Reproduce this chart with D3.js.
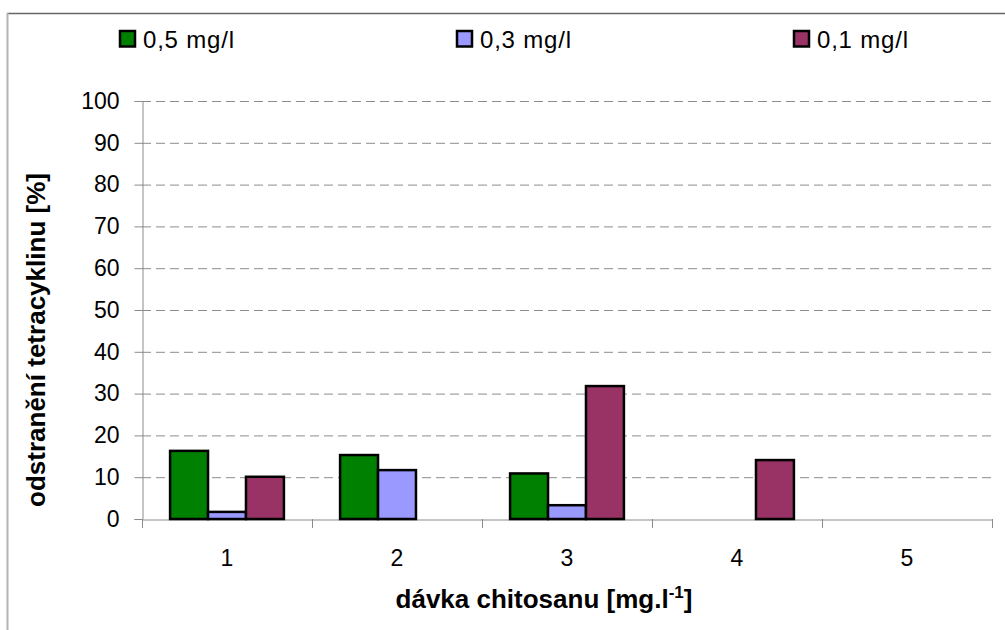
<!DOCTYPE html>
<html><head><meta charset="utf-8">
<script src="https://cdn.jsdelivr.net/npm/d3@7"></script>
<style>body{margin:0;background:#fff}svg{display:block}</style>
</head><body>
<svg id="c" width="1005" height="630"></svg>
<script>
const categories = ["1","2","3","4","5"];
const seriesNames = ["0,5 mg/l","0,3 mg/l","0,1 mg/l"];
const seriesColors = ["#008000","#9999ff","#993366"];
const s05 = [16.3, 15.3, 10.9, null, null];
const s03 = [1.7, 11.7, 3.3, null, null];
const s01 = [10.1, null, 31.8, 14.1, null];
const yTicks = [0,10,20,30,40,50,60,70,80,90,100];
const series = [s05, s03, s01];

const svg = d3.select("#c");
const font = "Liberation Sans, Arial, sans-serif";
const L = 142, R = 992, T = 101, B = 519;

// outer frame
svg.append("line").attr("x1",7).attr("x2",1005).attr("y1",13.5).attr("y2",13.5)
  .attr("stroke","#666").attr("stroke-width",1.5);
svg.append("line").attr("x1",7.5).attr("x2",7.5).attr("y1",13).attr("y2",630)
  .attr("stroke","#b4b4b4").attr("stroke-width",2);

const x = d3.scaleBand().domain(categories).range([L,R]);
const xs = d3.scaleBand().domain(d3.range(3)).range([0,x.bandwidth()]).paddingInner(0).paddingOuter(0.74);
const y = d3.scaleLinear().domain([0,100]).range([B,T]);

// gridlines
svg.append("g").selectAll("line").data(yTicks.filter(d=>d>0)).join("line")
  .attr("x1",L).attr("x2",R).attr("y1",d=>y(d)+0.5).attr("y2",d=>y(d)+0.5)
  .attr("stroke","#8c8c8c").attr("stroke-dasharray","9,5");

// y axis
const ya = svg.append("g").attr("transform",`translate(${L+0.5},0)`)
  .call(d3.axisLeft(y).tickValues(yTicks).tickSize(8).tickPadding(15));
ya.select(".domain").attr("stroke","#8c8c8c");
ya.selectAll(".tick line").attr("stroke","#8c8c8c");
ya.selectAll(".tick text").attr("font-family",font).attr("font-size",23).attr("fill","#000");

// x axis
const xa = svg.append("g").attr("transform",`translate(0,${B+0.5})`)
  .call(d3.axisBottom(x).tickSize(0).tickPadding(30));
xa.select(".domain").attr("stroke","#8c8c8c");
xa.selectAll(".tick text").attr("font-family",font).attr("font-size",23).attr("fill","#000");
svg.append("g").selectAll("line").data(categories.concat(["end"])).join("line")
  .attr("x1",(d,i)=> (i<categories.length? x(d) : R)+0.5)
  .attr("x2",(d,i)=> (i<categories.length? x(d) : R)+0.5)
  .attr("y1",B).attr("y2",B+9).attr("stroke","#8c8c8c");

// bars
series.forEach((s,si)=>{
  svg.append("g").selectAll("rect").data(categories.map((c,i)=>({c,v:s[i]})).filter(d=>d.v!=null)).join("rect")
    .attr("x",d=>x(d.c)+xs(si))
    .attr("width",xs.bandwidth())
    .attr("y",d=>y(d.v))
    .attr("height",d=>B-y(d.v))
    .attr("fill",seriesColors[si]).attr("stroke","#000").attr("stroke-width",2.5);
});

// legend
const lx = [119,456,793];
seriesNames.forEach((n,i)=>{
  svg.append("rect").attr("x",lx[i]+1).attr("y",31).attr("width",15).attr("height",15.5)
    .attr("fill",seriesColors[i]).attr("stroke","#000").attr("stroke-width",2.5);
  svg.append("text").attr("x",lx[i]+24).attr("y",47.5).text(n)
    .attr("font-family",font).attr("font-size",24).attr("letter-spacing",0.8).attr("fill","#000");
});

// axis titles
svg.append("text").attr("transform","translate(45,340) rotate(-90)").attr("text-anchor","middle")
  .attr("font-family",font).attr("font-size",26).attr("font-weight","bold")
  .attr("textLength",334).attr("lengthAdjust","spacing").text("odstranění tetracyklinu [%]");
const xt = svg.append("text").attr("x",544).attr("y",608).attr("text-anchor","middle")
  .attr("font-family",font).attr("font-size",26).attr("font-weight","bold");
xt.append("tspan").text("dávka chitosanu [mg.l");
xt.append("tspan").attr("dy",-10).attr("font-size",17).text("-1");
xt.append("tspan").attr("dy",10).text("]");
</script>
</body></html>
